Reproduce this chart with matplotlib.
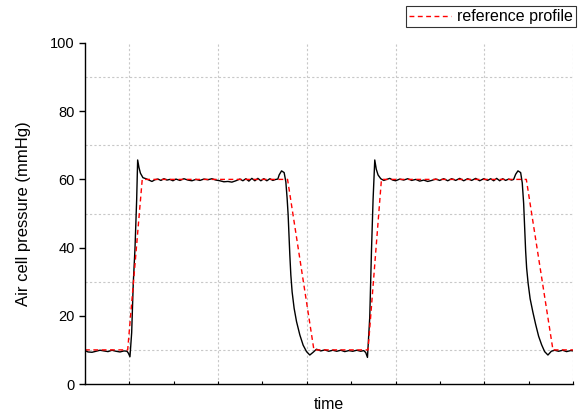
import numpy as np
import matplotlib.pyplot as plt
from matplotlib.ticker import MultipleLocator, NullFormatter

plt.rcParams['font.family'] = ['Liberation Sans', 'DejaVu Sans']

# ----------------------
# DATA (time in arbitrary units, one grid cell = 1)
# ----------------------
# reference profile (red dashed)
ref_t = [0.0, 0.481, 0.645, 2.283, 2.58, 3.190, 3.341, 4.974, 5.274, 5.5]
ref_p = [10, 10, 60, 60, 10, 10, 60, 60, 10, 10]

# measured pressure (black) as (pixel column in reference picture, mmHg)
low_1 = [(85, 9.8), (88, 9.4), (92, 9.3), (96, 9.6), (100, 9.9), (104, 9.7),
         (108, 9.5), (112, 9.9), (116, 9.6), (120, 9.4), (124, 9.7), (127, 9.6),
         (128.5, 9.0), (130, 8.0)]
rise_1 = [(131.7, 15.0), (133.3, 29.5), (135, 39.5), (136.7, 54.0), (137.7, 65.7),
          (139, 63.5), (140.5, 61.8), (143, 60.5)]
high_1 = [(146, 60.2), (149, 59.8), (152, 59.4), (155, 59.9), (158, 60.1),
          (161, 59.7), (164, 60.2), (167, 59.8), (170, 60.0), (173, 59.6),
          (176, 60.1), (180, 59.7), (184, 60.2), (188, 59.8), (192, 59.6),
          (196, 60.0), (200, 59.7), (204, 60.1), (208, 59.9), (212, 60.2),
          (216, 59.8), (220, 59.6), (224, 59.3), (228, 59.4), (232, 59.2),
          (236, 59.6), (240, 60.1), (243, 59.6), (246, 60.2), (249, 59.5),
          (252, 60.3), (255, 59.6), (258, 60.3), (261, 59.6), (264, 60.2),
          (267, 59.6), (270, 60.2), (273, 59.7), (276, 60.0), (278, 60.1)]
fall_1 = [(279.3, 61.3), (281.7, 62.5), (284.3, 62.0), (286, 59.3), (287.3, 54.4),
          (288.3, 49.6), (289, 44.7), (290, 37.8), (291, 32.0), (292.3, 27.0),
          (294.3, 22.2), (296.7, 18.3), (300, 14.4), (303.3, 11.4), (306.7, 9.5),
          (310, 8.5)]
low_2 = [(313.3, 9.3), (316.7, 10.2), (321, 9.7), (325, 10.0), (329, 9.6),
         (333, 9.9), (337, 9.6), (341, 9.9), (345, 9.5), (349, 9.8), (353, 9.6),
         (357, 9.9), (361, 9.6), (364, 9.8), (366, 9.2), (367.7, 7.8)]
rise_2 = [(370, 19.7), (371.7, 39.0), (373.3, 54.0), (375, 65.7), (376.5, 63.0),
          (378.3, 61.3), (381, 60.2)]
high_2 = [(384, 59.7), (387, 60.0), (390, 60.3), (393, 59.8), (396, 59.6),
          (400, 60.1), (404, 59.8), (408, 60.2), (412, 59.7), (416, 60.0),
          (420, 59.5), (424, 59.8), (428, 59.4), (432, 59.7), (436, 60.1),
          (440, 59.7), (444, 60.2), (448, 59.6), (452, 60.2), (456, 59.7),
          (460, 60.3), (464, 59.6), (468, 60.2), (472, 59.7), (476, 60.3),
          (480, 59.6), (484, 60.2), (488, 59.7), (491, 60.2), (494, 59.6),
          (497, 60.3), (500, 59.6), (503, 60.2), (506, 59.7), (509, 60.1),
          (512, 59.8), (514, 60.0)]
fall_2 = [(516, 61.5), (518.3, 62.5), (521, 62.0), (522.6, 59.0), (524, 53.0),
          (525, 46.0), (526, 39.0), (527, 34.0), (528.5, 29.5), (530.5, 25.0),
          (533.3, 21.0), (536, 17.5), (539, 14.0), (542, 11.5), (545, 9.5),
          (548.3, 8.5)]
low_3 = [(551.7, 9.6), (555, 9.9), (559, 9.6), (563, 9.9), (567, 9.5), (571, 9.8),
         (574, 9.7)]

meas = low_1 + rise_1 + high_1 + fall_1 + low_2 + rise_2 + high_2 + fall_2 + low_3
meas_t = [(px - 85) / 88.8 for px, _ in meas]
meas_p = [p for _, p in meas]

# ----------------------
# PLOT
# ----------------------
fig = plt.figure(figsize=(5.81, 4.12), dpi=100)
ax = fig.add_axes([85 / 581, 1 - 384 / 412, 488 / 581, 341 / 412])

ax.plot(meas_t, meas_p, color='black', lw=1.0)
ax.plot(ref_t, ref_p, color='red', lw=1.0, linestyle=(0, (3.5, 2.5)),
        label='reference profile')

ax.set_xlim(0, 5.5)
ax.set_ylim(0, 100)

ax.yaxis.set_major_locator(MultipleLocator(20))
ax.yaxis.set_minor_locator(MultipleLocator(10))
ax.xaxis.set_major_locator(MultipleLocator(1))
ax.xaxis.set_minor_locator(MultipleLocator(0.5))
ax.xaxis.set_major_formatter(NullFormatter())

ax.grid(True, which='minor', color='#c8c8c8', lw=0.8, linestyle=(0, (2, 2)))
ax.grid(False, which='major')

ax.tick_params(axis='y', which='major', direction='out', length=4, width=1,
               labelsize=10.5)
ax.tick_params(axis='y', which='minor', length=0)
ax.tick_params(axis='x', which='both', direction='in', length=2, width=0.8)

for s in ['top', 'right']:
    ax.spines[s].set_visible(False)
for s in ['left', 'bottom']:
    ax.spines[s].set_linewidth(1.0)

ax.set_ylabel('Air cell pressure (mmHg)', fontsize=12, labelpad=14)
ax.set_xlabel('time', fontsize=11.5, labelpad=6)

leg = fig.legend(loc='upper right', bbox_to_anchor=(576 / 581, 1 - 6 / 412),
                 frameon=True, fancybox=False, fontsize=11.5, handlelength=2.6,
                 borderpad=0.2, handletextpad=0.4, borderaxespad=0)
leg.get_frame().set_edgecolor('black')
leg.get_frame().set_linewidth(0.8)

fig.savefig('out.png', dpi=100)
